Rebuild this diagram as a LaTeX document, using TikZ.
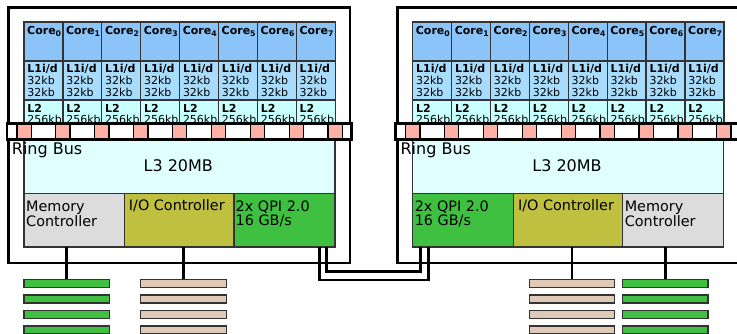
\documentclass[tikz,border=0pt]{standalone}
\usepackage{fontspec}
\setmainfont{DejaVu Sans}
\usetikzlibrary{positioning,calc}
\definecolor{CoreBlue}{RGB}{138,196,248}
\definecolor{CacheBlue}{RGB}{168,220,253}
\definecolor{CacheCyan}{RGB}{200,255,255}
\definecolor{LastCyan}{RGB}{224,255,255}
\definecolor{CtrlGray}{RGB}{220,220,220}
\definecolor{IoOlive}{RGB}{191,191,64}
\definecolor{QpiGreen}{RGB}{64,192,64}
\definecolor{BusPink}{RGB}{255,176,165}
\definecolor{DimmBeige}{RGB}{222,202,182}
\tikzset{
  cell/.style={draw=black!80,line width=1.3pt,inner sep=0pt,outer sep=0pt,anchor=north west},
  corebox/.style={cell,fill=CoreBlue,minimum width=38.9pt,minimum height=39pt},
  lonebox/.style={cell,fill=CacheBlue,minimum width=38.9pt,minimum height=39pt},
  ltwobox/.style={cell,fill=CacheCyan,minimum width=38.9pt,minimum height=24pt},
  lthreebox/.style={cell,fill=LastCyan,minimum width=311pt,minimum height=53.8pt},
  ctrlbox/.style={cell,minimum height=53.7pt},
  socket/.style={draw=black,line width=2.8pt,fill=white,inner sep=0pt,outer sep=0pt,
                 anchor=north west,minimum width=341.5pt,minimum height=255.5pt},
  ringbus/.style={fill=white,inner sep=0pt,outer sep=0pt,anchor=north west,
                  minimum width=344.5pt,minimum height=16.2pt},
  buscell/.style={draw=black,line width=1.3pt,fill=BusPink,inner sep=0pt,outer sep=0pt,
                  minimum width=14.3pt,minimum height=16.2pt},
  dimm/.style={cell,minimum height=8pt},
  cellText/.style={anchor=north west,inner sep=0pt,align=left,font=\fontsize{11}{11.7}\selectfont},
  ctrlText/.style={anchor=north west,inner sep=0pt,align=left,font=\fontsize{14.4}{13.3}\selectfont},
  bigText/.style={inner sep=0pt,font=\fontsize{16}{19}\selectfont},
  wire/.style={draw=black,line width=2.6pt},
}
\begin{document}
\begin{tikzpicture}[x=1pt,y=-1pt]
\useasboundingbox (0,0) rectangle (737,333);

% two sockets: cores, caches, ring bus
\foreach \s/\ox in {L/0,R/388.7}{
  \node[socket] (sock\s) at (8.5+\ox,7.5) {};
  \foreach \i in {0,...,7}{
    \node[corebox] (core\s\i) at (24+\ox+\i*38.9,22) {};
    \node[lonebox, below=0pt of core\s\i] (lone\s\i) {};
    \node[ltwobox, below=0pt of lone\s\i] (ltwo\s\i) {};
    \node[cellText] (tcore\s\i) at ([shift={(3,4.5)}]core\s\i.north west) {\textbf{Core\textsubscript{\i}}};
    \node[cellText] (tlone\s\i) at ([shift={(3.2,3.4)}]lone\s\i.north west) {\textbf{L1i/d}\\32kb\\32kb};
    \node[cellText] (tltwo\s\i) at ([shift={(3.2,3.8)}]ltwo\s\i.north west) {\textbf{L2}\\256kb};
  }
  \node[lthreebox] (lthree\s) at (24+\ox,139.5) {};
  \node[bigText, anchor=base] (tlthree\s) at ([shift={(-1.2,31.5)}]lthree\s.north) {L3 20MB};
  \node[ringbus] (ring\s) at (7+\ox,123.3) {};
  \foreach \i in {0,...,8}
    \node[buscell] (bus\s\i) at (24+\ox+\i*38.9,131.4) {};
  \draw[line width=2.8pt] (ring\s.north west) rectangle (ring\s.south east);
  \node[bigText, anchor=base west] (tring\s) at ([shift={(4.7,14.8)}]ring\s.south west) {Ring Bus};
}

% controllers
\node[ctrlbox, fill=CtrlGray, minimum width=100.5pt] (memL) at (24,193.3) {};
\node[ctrlbox, fill=IoOlive, minimum width=109.5pt, right=0pt of memL] (ioL) {};
\node[ctrlbox, fill=QpiGreen, minimum width=101pt, right=0pt of ioL] (qpiL) {};
\node[ctrlbox, fill=QpiGreen, minimum width=101pt] (qpiR) at (412.6,193.3) {};
\node[ctrlbox, fill=IoOlive, minimum width=109pt, right=0pt of qpiR] (ioR) {};
\node[ctrlbox, fill=CtrlGray, minimum width=101.1pt, right=0pt of ioR] (memR) {};

\node[ctrlText] (tmemL) at ([shift={(2,7.8)}]memL.north west) {Memory\\Controller};
\node[ctrlText] (tioL) at ([shift={(4.2,6.5)}]ioL.north west) {I/O Controller};
\node[ctrlText] (tqpiL) at ([shift={(1.5,7.8)}]qpiL.north west) {2x QPI 2.0\\16 GB/s};
\node[ctrlText] (tqpiR) at ([shift={(2,7.8)}]qpiR.north west) {2x QPI 2.0\\16 GB/s};
\node[ctrlText] (tioR) at ([shift={(4.3,6.5)}]ioR.north west) {I/O Controller};
\node[ctrlText] (tmemR) at ([shift={(2,7.8)}]memR.north west) {Memory\\Controller};

% memory and i/o slots
\foreach \k in {0,...,3}{
  \node[dimm, fill=QpiGreen, minimum width=85.3pt] (dmemL\k) at (24,279.3+\k*15.6) {};
  \node[dimm, fill=DimmBeige, minimum width=86.4pt] (dioL\k) at (140.3,279.3+\k*15.6) {};
  \node[dimm, fill=DimmBeige, minimum width=84.6pt] (dioR\k) at (529.6,279.3+\k*15.6) {};
  \node[dimm, fill=QpiGreen, minimum width=85.4pt] (dmemR\k) at (622.6,279.3+\k*15.6) {};
}
\draw[wire] (dmemL0.north |- memL.south) -- (dmemL0.north);
\draw[wire] (dioL0.north |- ioL.south) -- (dioL0.north);
\draw[wire] (dioR0.north |- ioR.south) -- (dioR0.north);
\draw[wire] (dmemR0.north |- memR.south) -- (dmemR0.north);

% qpi links
\draw[wire] ([shift={(-15.7,0)}]qpiL.south east) -- ++(0,33) -| ([shift={(15.7,0)}]qpiR.south west);
\draw[wire] ([shift={(-8.3,0)}]qpiL.south east) -- ++(0,24.7) -| ([shift={(8.1,0)}]qpiR.south west);
\end{tikzpicture}
\end{document}
